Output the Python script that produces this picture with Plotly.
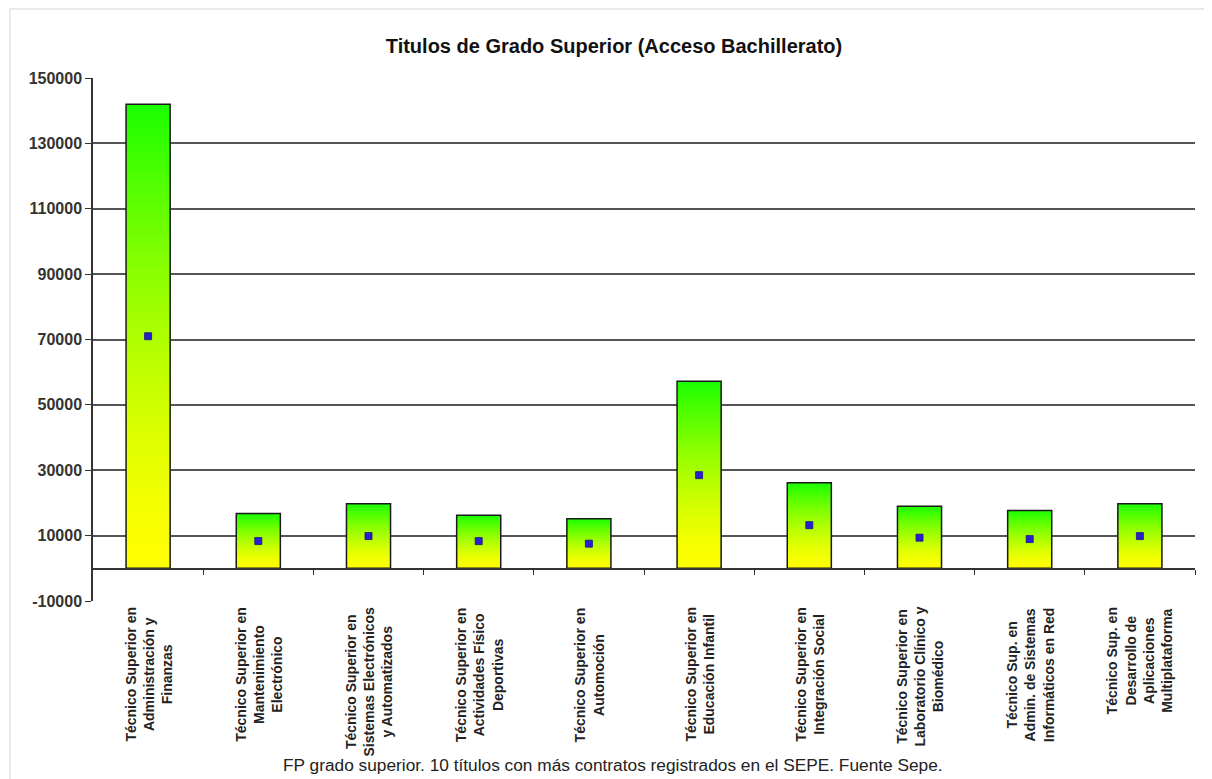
import plotly.graph_objects as go

categorias = [
    "Técnico Superior en<br>Administración y<br>Finanzas",
    "Técnico Superior en<br>Mantenimiento<br>Electrónico",
    "Técnico Superior en<br>Sistemas Electrónicos<br>y Automatizados",
    "Técnico Superior en<br>Actividades Físico<br>Deportivas",
    "Técnico Superior en<br>Automoción",
    "Técnico Superior en<br>Educación Infantil",
    "Técnico Superior en<br>Integración Social",
    "Técnico Superior en<br>Laboratorio Clínico y<br>Biomédico",
    "Técnico Sup. en<br>Admin. de Sistemas<br>Informáticos en Red",
    "Técnico Sup. en<br>Desarrollo de<br>Aplicaciones<br>Multiplataforma",
]
titulos = [142000, 16800, 19750, 16200, 15200, 57200, 26200, 19000, 17700, 19750]
marcadores = [71000, 8350, 9860, 8330, 7540, 28500, 13200, 9370, 8950, 9860]
y_ticks = [-10000, 10000, 30000, 50000, 70000, 90000, 110000, 130000, 150000]
grid_ticks = [10000, 30000, 50000, 70000, 90000, 110000, 130000]

idx = list(range(len(categorias)))

GREEN = (25, 255, 0)
YELLOW = (255, 255, 0)
N = 60

fig = go.Figure()

# gradient fill: stacked shrinking bars from top colour to bottom colour
for k in range(N):
    frac = (N - k) / N
    t = ((N - k - 0.5) / N) ** 1.5
    col = tuple(round(YELLOW[i] + (GREEN[i] - YELLOW[i]) * t) for i in range(3))
    fig.add_trace(go.Bar(
        x=idx, y=[v * frac for v in titulos],
        width=0.4,
        marker=dict(color="rgb(%d,%d,%d)" % col, line=dict(width=0)),
        showlegend=False, hoverinfo="skip",
    ))

# outline
fig.add_trace(go.Bar(
    x=idx, y=titulos, width=0.4,
    marker=dict(color="rgba(0,0,0,0)", line=dict(color="#1a1a1a", width=1.5)),
    showlegend=False,
))

fig.add_trace(go.Scatter(
    x=idx, y=marcadores, mode="markers", yaxis="y2",
    marker=dict(symbol="square", size=7, color="#2a1fd0",
                line=dict(color="#1a1080", width=0.8)),
    showlegend=False,
))

OFF = 8  # page body margin
W, H = 1212, 779
L = 93 - OFF
T = 78 - OFF
R = W - (1195 - OFF)
B = H - (601 - OFF)
pw, ph = W - L - R, H - T - B


def px_to_paper_x(px):
    return (px - OFF - L) / pw


def px_to_paper_y(py):
    return ((601 - OFF) - (py - OFF)) / ph


fig.update_layout(
    width=W, height=H,
    margin=dict(l=L, r=R, t=T, b=B),
    paper_bgcolor="white", plot_bgcolor="white",
    barmode="overlay",
    font=dict(family="Liberation Sans, Arial, sans-serif", color="#222"),
    title=dict(
        text="<b>Titulos de Grado Superior (Acceso Bachillerato)</b>",
        x=0.5, xref="container", xanchor="center",
        y=1 - (46 - OFF) / H, yref="container", yanchor="middle",
        font=dict(size=20, color="#111", family="Liberation Sans, Arial"),
    ),
    xaxis=dict(
        type="linear", range=[-0.5, len(categorias) - 0.5],
        anchor="free", position=(601 - 569) / ph,
        showline=True, linecolor="#333", linewidth=1.5,
        tickvals=[i + 0.5 for i in idx], ticks="outside", ticklen=5,
        tickcolor="#333", tickwidth=1.2,
        showticklabels=False, showgrid=False, zeroline=False,
    ),
    yaxis=dict(
        range=[-10000, 150000], tickvals=y_ticks,
        ticktext=[str(v) for v in y_ticks],
        showgrid=False, zeroline=False,
        showline=True, linecolor="#333", linewidth=1.5,
        ticks="outside", ticklen=6, tickcolor="#333", tickwidth=1.2,
        tickfont=dict(size=16, color="#333", family="Liberation Sans, Arial",
                      weight="bold"),
    ),
    yaxis2=dict(
        range=[-10000, 150000], overlaying="y", tickvals=grid_ticks,
        showgrid=True, gridcolor="#555", gridwidth=1.5,
        showticklabels=False, ticks="", zeroline=False, showline=False,
    ),
)

# category labels
for i, c in zip(idx, categorias):
    fig.add_annotation(
        x=i, xref="x", y=px_to_paper_y(605), yref="paper",
        text="<b>%s</b>" % c, textangle=-90, showarrow=False,
        xanchor="center", yanchor="top", align="center",
        font=dict(size=14, color="#222"),
    )

fig.add_annotation(
    x=px_to_paper_x(613), xref="paper", y=px_to_paper_y(765), yref="paper",
    text="FP grado superior. 10 títulos con más contratos registrados en el SEPE. Fuente Sepe.",
    showarrow=False, xanchor="center", yanchor="middle",
    font=dict(size=17.3, color="#222"),
)

# chart frame
fig.add_shape(
    type="rect", xref="paper", yref="paper",
    x0=px_to_paper_x(10), x1=px_to_paper_x(W + 20),
    y0=px_to_paper_y(H + 20), y1=px_to_paper_y(9),
    line=dict(color="#e2e2e2", width=1.5), fillcolor="rgba(0,0,0,0)", layer="below",
)

fig.write_html("out.html")
